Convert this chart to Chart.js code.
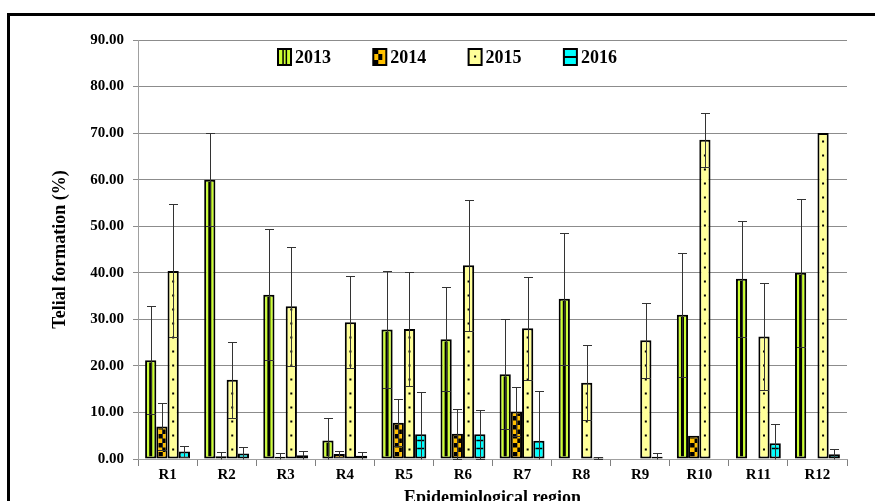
<!DOCTYPE html>
<html>
<head>
<meta charset="utf-8">
<script src="https://cdn.jsdelivr.net/npm/chart.js@4.4.1/dist/chart.umd.min.js"></script>
<style>
  html, body { margin: 0; padding: 0; background: #fff; }
  #contenedor { width: 875px; height: 501px; overflow: hidden; }
</style>
</head>
<body>
<div id="contenedor"><canvas id="graficoTelias" width="875" height="501"></canvas></div>
<script>
// Datos
const regiones = ["R1", "R2", "R3", "R4", "R5", "R6", "R7", "R8", "R9", "R10", "R11", "R12"];
const anios = ["2013", "2014", "2015", "2016"];

const valores2013 = [21.2, 60.0, 35.3, 4.0, 27.8, 25.7, 18.2, 34.4, 0, 31.0, 38.7, 40.0];
const valores2014 = [7.0, 0.6, 0.5, 1.1, 7.8, 5.4, 10.2, 0, 0, 5.0, 0, 0];
const valores2015 = [40.4, 17.0, 32.8, 29.4, 27.9, 41.6, 28.1, 16.4, 25.5, 68.6, 26.3, 70.0];
const valores2016 = [1.6, 1.2, 0.8, 0.7, 5.3, 5.3, 3.9, 0.3, 0.5, 0, 3.4, 1.0];

// desvios (barras de error simetricas)
const error2013 = [11.6, 10.0, 14.1, 4.8, 12.6, 11.2, 11.8, 14.2, 0, 13.3, 12.5, 15.9];
const error2014 = [5.0, 1.0, 0.8, 0.6, 5.0, 5.3, 5.3, 0, 0, 0, 0, 0];
const error2015 = [14.3, 8.2, 12.8, 9.9, 12.3, 14.0, 11.1, 8.0, 8.0, 5.8, 11.5, 0];
const error2016 = [1.2, 1.3, 1.0, 0.9, 9.1, 5.2, 10.7, 0.2, 0.8, 0, 4.1, 1.2];

const coloresAnios = ["#ccff33", "#ffc000", "#ffff99", "#00ffff"];

Chart.defaults.font.family = "'Liberation Serif', 'Times New Roman', serif";
Chart.defaults.font.weight = "bold";
Chart.defaults.color = "#000";

// Dibuja la textura de cada serie dentro de un rectangulo
function dibujarTextura(ctx, serie, izq, arriba, ancho, alto, base) {
  ctx.fillStyle = "#000";
  const centro = izq + ancho / 2;
  if (serie === 0) {
    // franja vertical negra
    ctx.fillRect(centro - 1.5, arriba, 3, alto);
  } else if (serie === 1) {
    // damero negro
    const celda = 4.5;
    let fila = 0;
    for (let yy = base; yy > arriba - celda; yy -= celda, fila++) {
      let col = 0;
      for (let xx = izq; xx < izq + ancho; xx += celda, col++) {
        if ((fila + col) % 2 === 0) ctx.fillRect(xx, yy - celda, celda, celda);
      }
    }
  } else if (serie === 2) {
    // puntos
    for (let yy = base - 7; yy > arriba + 1; yy -= 14) {
      ctx.fillRect(centro - 1, yy - 1, 2, 2);
    }
  } else {
    // lineas horizontales
    for (let yy = base - 8; yy > arriba + 1; yy -= 8) {
      ctx.fillRect(izq, yy - 0.75, ancho, 1.5);
    }
  }
}

const pluginTexturasYErrores = {
  id: "texturasYErrores",
  afterDatasetsDraw(chart) {
    const ctx = chart.ctx;
    const escalaY = chart.scales.y;
    const borde = 2;

    // Texturas de las barras
    chart.data.datasets.forEach((ds, i) => {
      const meta = chart.getDatasetMeta(i);
      meta.data.forEach((barra) => {
        const { x, y, base, width } = barra.getProps(["x", "y", "base", "width"], true);
        const alto = base - y - 2 * borde;
        if (alto < 1) return;
        ctx.save();
        ctx.beginPath();
        ctx.rect(x - width / 2 + borde, y + borde, width - 2 * borde, alto);
        ctx.clip();
        dibujarTextura(ctx, i, x - width / 2 + borde, y + borde, width - 2 * borde, alto, base - borde);
        ctx.restore();
      });
    });

    // Barras de error
    ctx.save();
    ctx.strokeStyle = "#333";
    ctx.lineWidth = 1;
    chart.data.datasets.forEach((ds, i) => {
      const meta = chart.getDatasetMeta(i);
      meta.data.forEach((barra, j) => {
        const sd = ds.errores[j];
        if (!sd) return;
        const v = ds.data[j];
        const x = Math.round(barra.x) + 0.5;
        const yArriba = Math.round(escalaY.getPixelForValue(v + sd)) + 0.5;
        const abajoValido = v - sd >= 0;
        const yAbajo = Math.round(escalaY.getPixelForValue(Math.max(v - sd, 0))) + 0.5;
        ctx.beginPath();
        ctx.moveTo(x, yArriba);
        ctx.lineTo(x, yAbajo);
        ctx.moveTo(x - 4.5, yArriba);
        ctx.lineTo(x + 4.5, yArriba);
        if (abajoValido) {
          ctx.moveTo(x - 4.5, yAbajo);
          ctx.lineTo(x + 4.5, yAbajo);
        }
        ctx.stroke();
      });
    });
    ctx.restore();
  },
  afterDraw(chart) {
    const ctx = chart.ctx;
    const area = chart.chartArea;

    // Leyenda dentro del area del grafico
    ctx.save();
    const xInicio = area.left + 140;
    const yCaja = area.top + 9;
    const anchoCaja = 13, altoCaja = 16;
    chart.data.datasets.forEach((ds, i) => {
      const xi = xInicio + i * 95.3;
      ctx.fillStyle = ds.backgroundColor;
      ctx.fillRect(xi, yCaja, anchoCaja, altoCaja);
      ctx.save();
      ctx.beginPath();
      ctx.rect(xi, yCaja, anchoCaja, altoCaja);
      ctx.clip();
      ctx.fillStyle = "#000";
      if (i === 0) {
        ctx.fillRect(xi + 4.3, yCaja, 1.5, altoCaja);
        ctx.fillRect(xi + 7.6, yCaja, 1.5, altoCaja);
      } else if (i === 1) {
        ctx.fillRect(xi, yCaja, 5, 5);
        ctx.fillRect(xi, yCaja + 11, 5, 5);
        ctx.fillRect(xi + 5, yCaja + 5, 4, 6);
      } else if (i === 2) {
        ctx.fillRect(xi + 5.5, yCaja + 6.5, 2, 2);
      } else {
        ctx.fillRect(xi, yCaja + 7, anchoCaja, 2);
      }
      ctx.restore();
      ctx.strokeStyle = "#000";
      ctx.lineWidth = 2;
      ctx.strokeRect(xi, yCaja, anchoCaja, altoCaja);
      ctx.fillStyle = "#000";
      ctx.font = "bold 18px 'Liberation Serif', 'Times New Roman', serif";
      ctx.textBaseline = "middle";
      ctx.textAlign = "left";
      ctx.fillText(ds.label, xi + anchoCaja + 4, yCaja + altoCaja / 2 + 1);
    });

    // Marco exterior
    ctx.strokeStyle = "#000";
    ctx.lineWidth = 3;
    ctx.strokeRect(8.5, 14.5, 900, 520);
    ctx.restore();
  }
};

const seriesValores = [valores2013, valores2014, valores2015, valores2016];
const seriesErrores = [error2013, error2014, error2015, error2016];

const datos = {
  labels: regiones,
  datasets: anios.map((anio, i) => ({
    label: anio,
    data: seriesValores[i],
    errores: seriesErrores[i],
    backgroundColor: coloresAnios[i],
    borderColor: "#000",
    borderWidth: 2,
    borderSkipped: false,
    categoryPercentage: 0.76,
    barPercentage: 1.0
  }))
};

const config = {
  type: "bar",
  data: datos,
  options: {
    responsive: false,
    animation: false,
    layout: { padding: { left: 0, top: 40, right: 28, bottom: 0 } },
    plugins: {
      legend: { display: false },
      tooltip: { enabled: false }
    },
    scales: {
      x: {
        grid: { display: true, drawOnChartArea: false, offset: true, tickLength: 7, color: "#808080" },
        border: { color: "#a0a0a0" },
        ticks: { font: { size: 15, weight: "bold" }, color: "#000", padding: 0, maxRotation: 0, autoSkip: false },
        title: {
          display: true,
          text: "Epidemiological region",
          font: { size: 18, weight: "bold" },
          color: "#000",
          padding: { top: 0, bottom: -8 }
        },
        afterFit: (escala) => { escala.height = 42; }
      },
      y: {
        min: 0,
        max: 90,
        ticks: {
          stepSize: 10,
          callback: (v) => v.toFixed(2),
          font: { size: 15, weight: "bold" },
          color: "#000",
          padding: 9
        },
        grid: { color: "#8c8c8c", tickLength: 5 },
        border: { color: "#a0a0a0" },
        title: {
          display: true,
          text: "Telial formation (%)",
          font: { size: 18, weight: "bold" },
          color: "#000",
          padding: { top: 50, bottom: 0 }
        },
        afterFit: (escala) => { escala.width = 138; }
      }
    }
  },
  plugins: [pluginTexturasYErrores]
};

const ctx = document.getElementById("graficoTelias").getContext("2d");
new Chart(ctx, config);
</script>
</body>
</html>
